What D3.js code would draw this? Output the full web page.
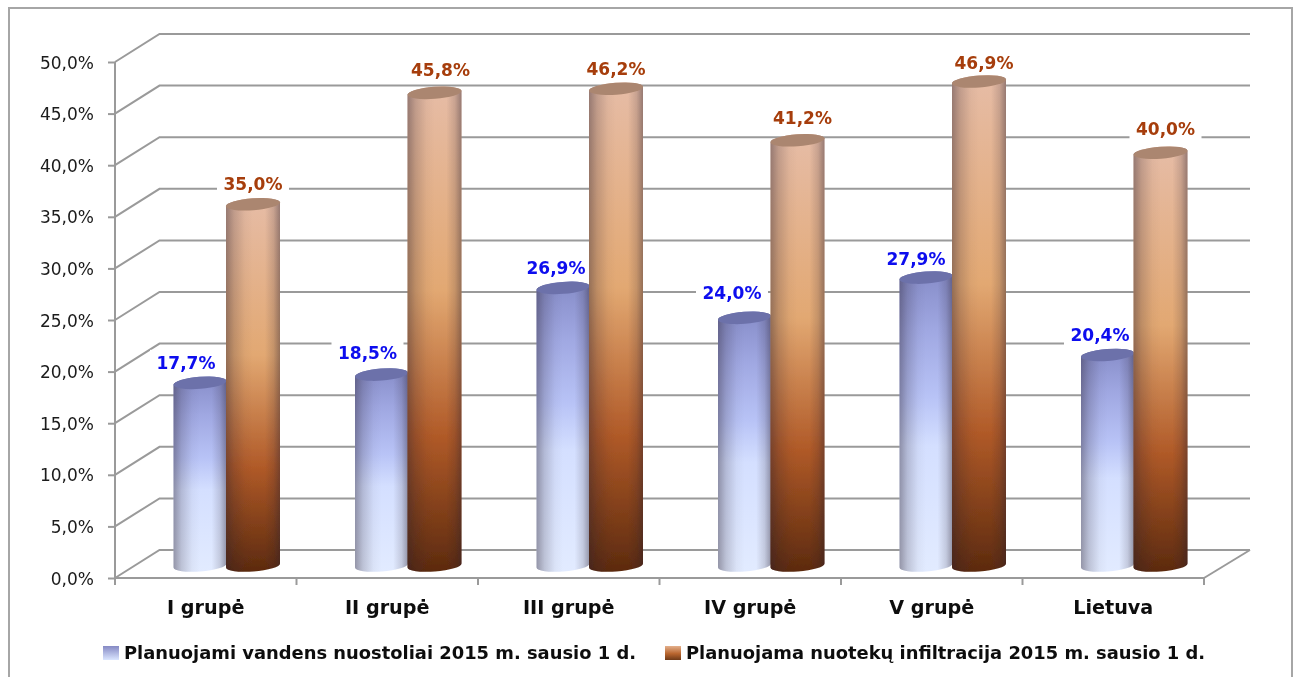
<!DOCTYPE html>
<html><head><meta charset="utf-8">
<script src="https://cdn.jsdelivr.net/npm/d3@7"></script>
<style>html,body{margin:0;padding:0;background:#fff;overflow:hidden}svg{display:block}</style>
</head><body><svg id="c" width="1298" height="677"></svg>
<script>
const categories = ["I grupė","II grupė","III grupė","IV grupė","V grupė","Lietuva"];
const seriesNames = ["Planuojami vandens nuostoliai 2015 m. sausio 1 d.","Planuojama nuotekų infiltracija 2015 m. sausio 1 d."];
const waterLoss = [17.7,18.5,26.9,24.0,27.9,20.4];
const infiltration = [35.0,45.8,46.2,41.2,46.9,40.0];
const yTicks = [0,5,10,15,20,25,30,35,40,45,50];

const svg = d3.select("#c");
const fmt = v => d3.format(".1f")(v).replace(".",",") + "%";
const GRID = "#9a9a9a", F = "'DejaVu Sans',sans-serif";

// layout
const L = {x0:115,x1:1204,yBottom:578,yTop:62,dx:44.5,dy:-28,barBase:565.5,ry:6,tilt:2};
const x = d3.scaleBand().domain(categories).range([L.x0,L.x1]);
const yFront = d3.scaleLinear().domain([0,50]).range([L.yBottom,L.yTop]);
const yBar = d3.scaleLinear().domain([0,50]).range([L.barBase,L.barBase-516]);

// frame
svg.append("rect").attr("x",9).attr("y",8).attr("width",1283).attr("height",720)
  .attr("fill","#fff").attr("stroke","#a6a6a6").attr("stroke-width",2);

// gradients
const defs = svg.append("defs");
function vgrad(id,stops){
  const g = defs.append("linearGradient").attr("id",id).attr("x1",0).attr("x2",0).attr("y1",0).attr("y2",1);
  stops.forEach(s=>g.append("stop").attr("offset",s[0]).attr("stop-color",s[1]));
}
vgrad("blueV",[[0,"#868cc8"],[0.2,"#a0a8e2"],[0.42,"#b8c3f6"],[0.58,"#d4dfff"],[1,"#e2ebff"]]);
vgrad("orangeV",[[0,"#e6bca6"],[0.42,"#e2a872"],[0.72,"#b05a28"],[1,"#5c2a0e"]]);
vgrad("blueL",[[0,"#8589c4"],[1,"#dbe6ff"]]);
vgrad("orangeL",[[0,"#e4b08c"],[0.55,"#b8652e"],[1,"#6e3a18"]]);
const sh = defs.append("linearGradient").attr("id","shade");
[[0,.42],[.15,.2],[.35,.04],[.5,0],[.72,0],[.88,.16],[1,.42]].forEach(s=>
  sh.append("stop").attr("offset",s[0]).attr("stop-color","#2a2030").attr("stop-opacity",s[1]));
defs.append("filter").attr("id","soft").append("feGaussianBlur").attr("stdDeviation",0.35);

// walls
const wall = svg.append("g").attr("filter","url(#soft)").attr("fill","none").attr("stroke",GRID).attr("stroke-width",2);
wall.selectAll("path.g").data(yTicks).join("path").attr("class","g")
  .attr("d",v=>{
    const y=yFront(v);
    return `M${L.x0},${y}L${L.x0+L.dx},${y+L.dy}L${L.x0+L.dx+(L.x1-L.x0)+1.5},${y+L.dy}`;
  });
wall.append("path").attr("d",`M${L.x1+46},${L.yBottom+L.dy}L${L.x1},${L.yBottom}`);

// axes
const gy = svg.append("g").attr("transform",`translate(${L.x0},0)`)
  .call(d3.axisLeft(yFront).tickValues(yTicks).tickFormat(fmt).tickSize(7).tickPadding(14));
gy.selectAll("text").attr("font-family",F).attr("font-size",17).attr("fill","#1a1a1a").attr("dy","0.36em").attr("filter","url(#soft)");
const gx = svg.append("g").attr("transform",`translate(0,${L.yBottom})`)
  .call(d3.axisBottom(x).tickSize(0).tickPadding(22));
gx.selectAll("text").attr("font-family",F).attr("font-weight","bold").attr("font-size",19.2).attr("fill","#111").attr("filter","url(#soft)");
const edges = d3.range(categories.length+1);
gx.selectAll("line.e").data(edges).join("line").attr("class","e")
  .attr("x1",i=>L.x0+x.step()*i).attr("x2",i=>L.x0+x.step()*i).attr("y1",0).attr("y2",7)
  .attr("stroke",GRID).attr("stroke-width",2);
svg.selectAll(".domain").attr("stroke",GRID).attr("stroke-width",2);
gy.selectAll(".tick line").attr("stroke",GRID).attr("stroke-width",2);
gy.select(".domain").attr("d",`M0,${L.yTop}V${L.yBottom}`);
gx.select(".domain").attr("d",`M${L.x0},0H${L.x1}`);

// value-label backings sit behind the cylinders
const labelBacks = svg.append("g");

// cylinders, tilted slightly as in the original perspective
function cyl(g,cx,rx,val,vId,capFill){
  const yt = yBar(val), yb = yBar(0), ry = L.ry, t = L.tilt;
  const rot = Math.atan2(-t,rx)*180/Math.PI;
  const d = `M${cx-rx},${yt+t}V${yb+t}A${rx},${ry} ${rot} 0 0 ${cx+rx},${yb-t}V${yt-t}A${rx},${ry} ${rot} 0 0 ${cx-rx},${yt+t}Z`;
  g.append("path").attr("d",d).attr("fill",`url(#${vId})`);
  g.append("path").attr("d",d).attr("fill","url(#shade)");
  g.append("ellipse").attr("rx",rx).attr("ry",ry).attr("fill",capFill)
    .attr("transform",`translate(${cx},${yt}) rotate(${rot})`);
}
const bars = svg.append("g").attr("filter","url(#soft)");
categories.forEach((c,i)=>{
  const b = x(c);
  cyl(bars,b+85,26.5,waterLoss[i],"blueV","#6c71aa");
  cyl(bars,b+138,27,infiltration[i],"orangeV","#ab866f");
});

// value labels (nudges as placed in the original, relative to the top of each bar)
const blueNudge = [[-14,-20],[-14,-22],[-7,-20],[-12.5,-25],[-10,-19],[-7.5,-20]];
const orangeNudge = [[0,-20],[6,-23],[0,-20],[5,-22],[5,-19],[5,-24]];
function labels(vals,off,nudge,col){
  vals.forEach((v,i)=>{
    const cx = x(categories[i])+off+nudge[i][0], cy = yBar(v)+nudge[i][1];
    labelBacks.append("rect").attr("x",cx-36).attr("y",cy-13).attr("width",72).attr("height",26).attr("fill","#fff");
    svg.append("text").attr("x",cx).attr("y",cy).attr("dy","0.36em").attr("text-anchor","middle")
      .attr("font-family",F).attr("font-weight","bold").attr("font-size",17).attr("fill",col)
      .attr("filter","url(#soft)").text(fmt(v));
  });
}
labels(waterLoss,85,blueNudge,"#0a0aee");
labels(infiltration,138,orangeNudge,"#a63c08");

// legend
const leg = svg.append("g");
const lx = d3.scalePoint().domain(seriesNames).range([103,665]);
seriesNames.forEach((n,i)=>{
  leg.append("rect").attr("x",lx(n)).attr("y",646).attr("width",16).attr("height",14)
     .attr("fill",`url(#${i?"orangeL":"blueL"})`);
  leg.append("text").attr("x",lx(n)+21).attr("y",653).attr("dy","0.36em")
     .attr("font-family",F).attr("font-weight","bold").attr("font-size",17.9).attr("fill","#111")
     .attr("filter","url(#soft)").text(n);
});
</script></body></html>
